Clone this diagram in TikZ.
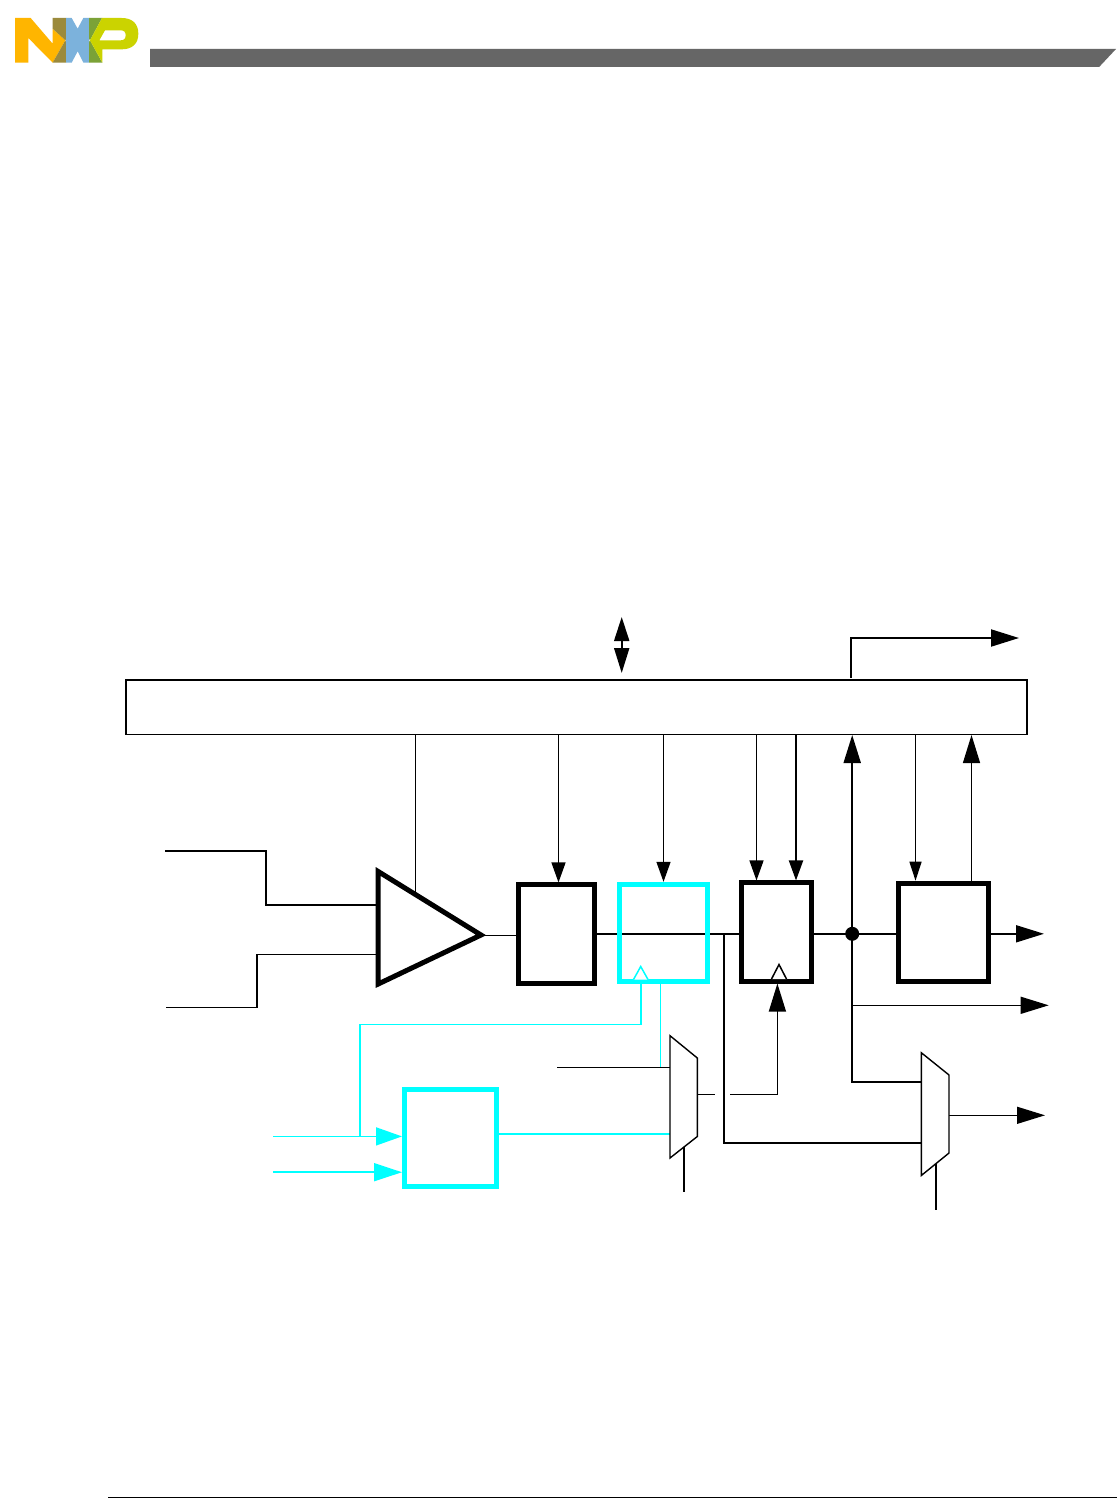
\documentclass[tikz,border=0pt]{standalone}
\usetikzlibrary{arrows.meta,backgrounds}
\definecolor{hdrgray}{HTML}{666666}
\definecolor{nxporange}{HTML}{FFB500}
\definecolor{nxpolive}{HTML}{9B8A3C}
\definecolor{nxpblue}{HTML}{7CB2DC}
\definecolor{nxpgreen}{HTML}{7BA237}
\definecolor{nxplime}{HTML}{CBD300}
\definecolor{aqua}{HTML}{00FFFF}
\tikzset{
  x=1pt,y=-1pt,
  heavybox/.style={draw=black,line width=5pt,inner sep=0pt,minimum width=#1},
  heavybox/.default=10pt,
  aquabox/.style={draw=aqua,line width=5pt,inner sep=0pt},
  thin wire/.style={line width=1.3pt,line join=miter},
  mid wire/.style={line width=1.7pt,line join=miter},
  thick wire/.style={line width=2pt,line join=miter},
  aqua wire/.style={draw=aqua,line width=1.6pt},
  small head/.style={-{Triangle[length=20pt,width=14pt,sep=0pt]}},
  big head/.style={-{Triangle[length=28pt,width=17pt,sep=0pt]}},
  mux/.style={draw=black,line width=1.4pt,fill=white,line join=miter},
  clock/.style={fill=white,line width=1.5pt,line join=miter},
}
\begin{document}
\begin{tikzpicture}
\useasboundingbox (0,0) rectangle (1117,1498);
\begin{scope}[on background layer]
  \fill[white] (0,0) rectangle (1117,1498);
\end{scope}

% header bar and footer rule
\fill[hdrgray] (150,49) -- (1116,49) -- (1099.3,66.8) -- (150,66.8) -- cycle;
\draw[line width=1pt] (108,1497) -- (1117,1497);

% logo
\begin{scope}[shift={(10,12)},x=0.33333pt,y=-0.33333pt]
  \fill[nxporange] (15,18) -- (62,18) -- (128,95) -- (128,50) -- (166,85) -- (128,152) -- (55,78) -- (55,152) -- (15,152) -- cycle;
  \fill[nxpolive] (128,18) -- (168,18) -- (168,82) -- (166,85) -- (128,50) -- cycle;
  \fill[nxpolive] (128,152) -- (166,85) -- (168,90) -- (168,152) -- cycle;
  \fill[nxpblue] (168,18) -- (185,18) -- (203,50) -- (220,18) -- (237,18) -- (237,152) -- (220,152) -- (203,118) -- (185,152) -- (168,152) -- cycle;
  \fill[nxpgreen] (237,18) -- (276,18) -- (240,85) -- (237,80) -- cycle;
  \fill[nxpgreen] (237,90) -- (240,85) -- (277,152) -- (237,152) -- cycle;
  \fill[nxplime,even odd rule] (276,18) -- (335,18) .. controls (367,18) and (385,35) .. (385,65) .. controls (385,95) and (367,112) .. (335,112) -- (277,112) -- (277,152) -- (240,85) -- cycle
     (285,55) -- (332,55) .. controls (342,55) and (347,60) .. (347,70) .. controls (347,80) and (342,85) .. (332,85) -- (268,85) -- cycle;
\end{scope}

% guide coordinates
\coordinate (rail) at (0,933.8);
\coordinate (xamp) at (415.3,860);
\coordinate (xreg) at (558.5,860);
\coordinate (xaq) at (663.5,860);
\coordinate (xa) at (756.5,860);
\coordinate (xb) at (796,860);
\coordinate (xf) at (915.5,860);
\coordinate (xg) at (971.5,860);
\coordinate (xnode) at (852.2,860);

% blocks
\node[draw=black,line width=1.5pt,inner sep=0pt,minimum width=901pt,minimum height=54.5pt] (bus) at (576.6,707) {};
\node[heavybox=76.2pt,minimum height=98.5pt] (reg) at (556.4,934.2) {};
\node[aquabox,minimum width=88.2pt,minimum height=97.2pt] (aq) at (663.7,932.9) {};
\node[heavybox=70.3pt,minimum height=98.5pt] (ff) at (776.4,932.2) {};
\node[heavybox=90.2pt,minimum height=97.8pt] (out) at (943.6,932.1) {};
\node[aquabox,minimum width=92.6pt,minimum height=97.3pt] (gen) at (450.5,1137.9) {};

% amplifier
\coordinate (ampT) at (378.2,871.5);
\coordinate (ampB) at (378.2,984);
\coordinate (ampTip) at (481,935);
\coordinate (ampIa) at (377,905);
\coordinate (ampIb) at (377,954.5);
\coordinate (ampTop) at (415.3,893);
\coordinate (ampOut) at (484,935.5);

% multiplexers
\coordinate (muxaA) at (670,1035.7);
\coordinate (muxaB) at (697.3,1058);
\coordinate (muxaC) at (697.3,1136.5);
\coordinate (muxaD) at (670,1158);
\coordinate (muxbA) at (921.3,1052.7);
\coordinate (muxbB) at (949,1075);
\coordinate (muxbC) at (949,1153);
\coordinate (muxbD) at (921.3,1175.5);

% free ends
\coordinate (inA) at (165,850.8);
\coordinate (inAb) at (265.8,850.8);
\coordinate (inB) at (166,1007.6);
\coordinate (inBb) at (257,1007.6);
\coordinate (gate) at (621.7,645);
\coordinate (gateUp) at (621.7,617);
\coordinate (gateDn) at (621.7,673);
\coordinate (stat) at (851,677.5);
\coordinate (statEnd) at (1019,638);
\coordinate (outA) at (1044,933.8);
\coordinate (tapY) at (852.2,1005.3);
\coordinate (outB) at (1048.7,1005.3);
\coordinate (outC) at (1045,1115.3);
\coordinate (muxaOut) at (697.3,1094.3);
\coordinate (muxaStub) at (715,1094.3);
\coordinate (clkWire) at (730,1094.3);
\coordinate (clkTurn) at (777.4,1094.3);
\coordinate (clkTip) at (777.4,983.5);
\coordinate (selA) at (684,1147);
\coordinate (selAe) at (684,1192);
\coordinate (selB) at (936,1164);
\coordinate (selBe) at (936,1210);
\coordinate (dataL) at (557,1067.3);
\coordinate (dataR) at (670,1067.3);
\coordinate (auxTop) at (660.7,983.5);
\coordinate (auxEnd) at (660.7,1067.3);
\coordinate (genOutL) at (499,1133.8);
\coordinate (genOutR) at (670,1133.8);
\coordinate (clkAq) at (640.7,979);
\coordinate (clkAqTurn) at (640.7,1024.4);
\coordinate (clkAqLeft) at (359.7,1024.4);
\coordinate (clkAqEnd) at (359.7,1136.4);
\coordinate (genInA) at (273,1136.4);
\coordinate (genInAt) at (402,1136.4);
\coordinate (genInB) at (273,1172.2);
\coordinate (genInBt) at (402,1172.2);
\coordinate (tapSplit) at (723.7,933.8);
\coordinate (tapBottom) at (723.7,1143);
\coordinate (muxbI) at (921.3,1143);
\coordinate (nodeBend) at (852.2,1082);
\coordinate (muxbJ) at (921.3,1082);
\coordinate (junction) at (852.2,933.8);

% connectors under the blocks
\begin{scope}[on background layer]
  \draw[mid wire] (reg.east |- rail) -- (ff.west |- rail);
\end{scope}
\draw[thin wire] (bus.south -| xamp) -- (ampTop);
\draw[thin wire,small head] (bus.south -| xreg) -- (reg.north -| xreg);
\draw[thin wire,small head] (bus.south -| xaq) -- (aq.north -| xaq);
\draw[thin wire,small head] (bus.south -| xa) -- (ff.north -| xa);
\draw[thick wire,small head] (bus.south -| xb) -- (ff.north -| xb);
\draw[thin wire,-{Triangle[length=19pt,width=12pt]}] (bus.south -| xf) -- (out.north -| xf);
\draw[thin wire,big head] (out.north -| xg) -- (bus.south -| xg);
\draw[thick wire,big head] (junction) -- (bus.south -| xnode);
\draw[line width=2pt,-{Triangle[length=24pt,width=15pt]}] (gate) -- (gateUp);
\draw[line width=2pt,-{Triangle[length=25pt,width=15pt]}] (gate) -- (gateDn);
\draw[thick wire,big head] (stat) |- (statEnd);

\draw[line width=1.6pt,line join=miter] (inA) -- (inAb) |- (ampIa);
\draw[line width=1.5pt] (inB) -- (inBb) |- (ampIb);
\draw[line width=1.5pt] (ampOut) -- (reg.west |- ampOut);

\draw[mid wire] (ff.east |- rail) -- (out.west |- rail);
\draw[mid wire,big head] (out.east |- rail) -- (outA);
\draw[thin wire,big head] (tapY) -- (outB);
\draw[thick wire] (junction) |- (muxbJ);
\draw[mid wire] (tapSplit) -- (tapBottom) -- (muxbI);
\draw[thin wire] (muxaOut) -- (muxaStub);
\draw[thin wire,big head] (clkWire) -- (clkTurn) -- (clkTip);
\draw[thin wire] (dataL) -- (dataR);
\draw[draw=aqua,line width=1.3pt] (auxTop) -- (auxEnd);
\draw[aqua wire] (genOutL) -- (genOutR);
\draw[aqua wire] (clkAq) -- (clkAqTurn) -- (clkAqLeft) -- (clkAqEnd);
\draw[aqua wire,-{Triangle[length=26pt,width=18pt]}] (genInA) -- (genInAt);
\draw[aqua wire,-{Triangle[length=28pt,width=18pt]}] (genInB) -- (genInBt);
\draw[mid wire] (selA) -- (selAe);
\draw[mid wire] (selB) -- (selBe);
\draw[thin wire,big head] (muxbB |- outC) -- (outC);

% shapes above the wires
\draw[line width=5pt,line join=miter,miter limit=10] (ampT) -- (ampTip) -- (ampB) -- cycle;
\draw[mux] (muxaA) -- (muxaB) -- (muxaC) -- (muxaD) -- cycle;
\draw[mux] (muxbA) -- (muxbB) -- (muxbC) -- (muxbD) -- cycle;
\draw[clock,draw=aqua] (633.5,979.5) -- (640.7,966.5) -- (648,979.5);
\draw[clock,draw=black] (771.5,979) -- (779,964.5) -- (786.5,979);
\fill (junction) circle[radius=7];
\end{tikzpicture}
\end{document}
